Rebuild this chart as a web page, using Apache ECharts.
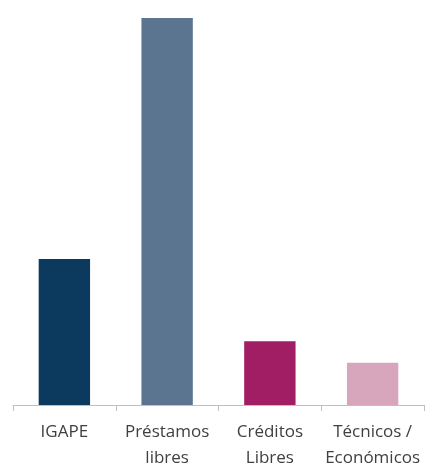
<!DOCTYPE html>
<html><head><meta charset="utf-8">
<script src="https://cdn.jsdelivr.net/npm/echarts@6/dist/echarts.min.js"></script>
<style>html,body{margin:0;padding:0;background:#fff}#c{width:425px;height:463px}</style>
</head><body><div id="c"></div>
<script>
const categories = ['IGAPE', 'Préstamos\nlibres', 'Créditos\nLibres', 'Técnicos /\nEconómicos'];
const values = [37.7, 100, 16.5, 10.9];
const colors = ['#0b3a5e', '#5b7490', '#a11d64', '#d8a6bc'];

const chart = echarts.init(document.getElementById('c'), null, {renderer: 'canvas'});
chart.setOption({
  animation: false,
  grid: {left: 13, right: 1, top: 18, bottom: 58, containLabel: false, outerBoundsMode: 'none'},
  xAxis: {
    type: 'category',
    data: categories,
    axisLine: {lineStyle: {color: '#bfbfbf', width: 1}},
    axisTick: {show: true, length: 6, lineStyle: {color: '#bfbfbf'}},
    axisLabel: {color: '#404040', fontSize: 17, fontFamily: 'Open Sans', lineHeight: 26, margin: 14, interval: 0}
  },
  yAxis: {type: 'value', min: 0, max: 100, show: false, splitLine: {show: false}},
  series: [{
    type: 'bar',
    barWidth: '50%',
    data: values.map((v, i) => ({value: v, itemStyle: {color: colors[i]}}))
  }]
});
</script></body></html>
